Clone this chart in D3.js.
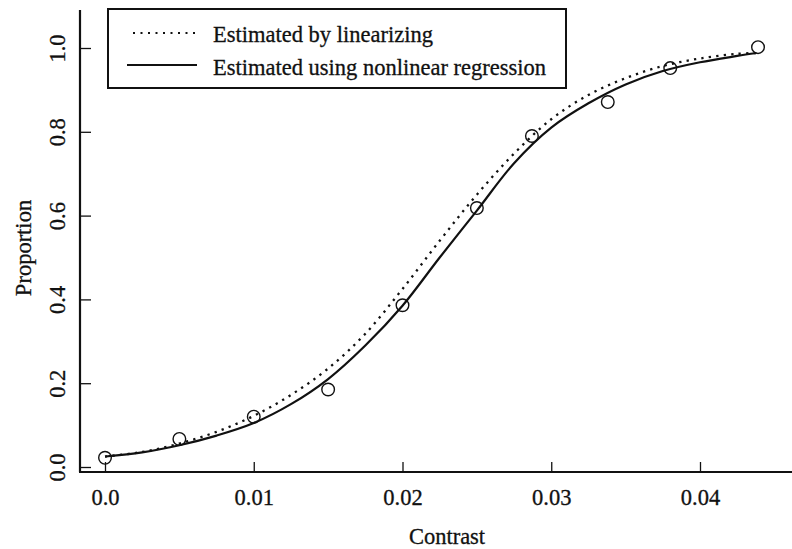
<!DOCTYPE html>
<html>
<head>
<meta charset="utf-8">
<script src="https://cdn.jsdelivr.net/npm/d3@7.9.0/dist/d3.min.js"></script>
<style>
  body { margin: 0; background: #fff; }
  svg { display: block; }
  text { font-family: "Liberation Serif", "Times New Roman", serif; fill: #111; }
</style>
</head>
<body>
<svg id="chart" width="792" height="549"></svg>
<script>
// observed points (contrast, proportion)
const contrast = [0, 0.005, 0.01, 0.015, 0.02, 0.025, 0.0287, 0.0338, 0.038, 0.0439];
const proportion = [0.022, 0.067, 0.12, 0.185, 0.386, 0.618, 0.79, 0.871, 0.952, 1.002];

// fitted curves
const curveX = [0, 0.0025, 0.005, 0.0075, 0.01, 0.0125, 0.015, 0.0175, 0.02, 0.0225,
  0.025, 0.0275, 0.03, 0.0325, 0.035, 0.0375, 0.04, 0.0425, 0.0438];
const linearized = [0.025, 0.036, 0.056, 0.084, 0.122, 0.172, 0.235, 0.318, 0.425, 0.54,
  0.65, 0.748, 0.83, 0.888, 0.928, 0.957, 0.975, 0.986, 0.988];
const nonlinear = [0.025, 0.035, 0.052, 0.075, 0.105, 0.15, 0.21, 0.29, 0.385, 0.5,
  0.612, 0.725, 0.81, 0.868, 0.913, 0.945, 0.966, 0.981, 0.988];

const xTicks = [0, 0.01, 0.02, 0.03, 0.04];
const xTickLabels = ["0.0", "0.01", "0.02", "0.03", "0.04"];
const yTicks = [0, 0.2, 0.4, 0.6, 0.8, 1.0];
const yTickLabels = ["0.0", "0.2", "0.4", "0.6", "0.8", "1.0"];
const legendLabels = ["Estimated by linearizing", "Estimated using nonlinear regression"];

const svg = d3.select("#chart");
const axLeft = 80, axBottom = 472, axTop = 10, axRight = 792;
const fs = 22.5;

const x = d3.scaleLinear().domain([0, 0.04]).range([105, 700]);
const y = d3.scaleLinear().domain([0, 1]).range([467, 48]);

// axis lines (no box)
svg.append("line").attr("x1", axLeft).attr("x2", axLeft).attr("y1", axTop).attr("y2", axBottom)
  .attr("stroke", "#111").attr("stroke-width", 2.2);
svg.append("line").attr("x1", axLeft - 1).attr("x2", axRight).attr("y1", axBottom).attr("y2", axBottom)
  .attr("stroke", "#111").attr("stroke-width", 2.2);

// x axis
const xAxis = svg.append("g")
  .attr("transform", `translate(0,${axBottom})`)
  .call(d3.axisBottom(x).tickValues(xTicks)
    .tickFormat((d, i) => xTickLabels[i]).tickSize(-10).tickPadding(17));
xAxis.select(".domain").remove();
xAxis.selectAll("line").attr("stroke", "#111").attr("stroke-width", 1.3);
xAxis.selectAll("text").attr("font-size", fs)
  .style("font-family", "'Liberation Serif', serif").attr("fill", "#111")
  .attr("stroke", "#111").attr("stroke-width", 0.3);

// y axis, rotated labels
const yAxis = svg.append("g")
  .attr("transform", `translate(${axLeft},0)`)
  .call(d3.axisLeft(y).tickValues(yTicks)
    .tickFormat((d, i) => yTickLabels[i]).tickSize(-11));
yAxis.select(".domain").remove();
yAxis.selectAll("line").attr("stroke", "#111").attr("stroke-width", 1.3);
yAxis.selectAll("text")
  .attr("x", null).attr("dy", null)
  .attr("transform", "translate(-15,0) rotate(-90)")
  .attr("text-anchor", "middle")
  .attr("font-size", fs)
  .style("font-family", "'Liberation Serif', serif").attr("fill", "#111")
  .attr("stroke", "#111").attr("stroke-width", 0.3);

// axis titles
svg.append("text").attr("x", 447).attr("y", 544).attr("text-anchor", "middle")
  .attr("font-size", fs).attr("stroke", "#111").attr("stroke-width", 0.3).text("Contrast");
svg.append("text").attr("transform", "translate(31,248) rotate(-90)")
  .attr("text-anchor", "middle").attr("font-size", fs)
  .attr("stroke", "#111").attr("stroke-width", 0.3).text("Proportion");

// curves
const line = d3.line().x(d => x(d[0])).y(d => y(d[1])).curve(d3.curveCatmullRom);

svg.append("path").datum(curveX.map((c, i) => [c, linearized[i]]))
  .attr("d", line).attr("fill", "none").attr("stroke", "#111")
  .attr("stroke-width", 2.3).attr("stroke-dasharray", "2.3,5.2");

svg.append("path").datum(curveX.map((c, i) => [c, nonlinear[i]]))
  .attr("d", line).attr("fill", "none").attr("stroke", "#111")
  .attr("stroke-width", 2.2);

// points
svg.selectAll("circle.pt").data(contrast.map((c, i) => [c, proportion[i]]))
  .enter().append("circle").attr("class", "pt")
  .attr("cx", d => x(d[0])).attr("cy", d => y(d[1])).attr("r", 6.3)
  .attr("fill", "none").attr("stroke", "#111").attr("stroke-width", 1.4);

// legend
const lg = svg.append("g");
lg.append("rect").attr("x", 108).attr("y", 9).attr("width", 458).attr("height", 79)
  .attr("fill", "#fff").attr("stroke", "#111").attr("stroke-width", 2);
lg.append("line").attr("x1", 133).attr("x2", 197).attr("y1", 33).attr("y2", 33)
  .attr("stroke", "#111").attr("stroke-width", 2.2).attr("stroke-dasharray", "2,5.5");
lg.append("line").attr("x1", 127).attr("x2", 197).attr("y1", 65).attr("y2", 65)
  .attr("stroke", "#111").attr("stroke-width", 2.2);
lg.selectAll("text.lab").data(legendLabels).enter().append("text").attr("class", "lab")
  .attr("x", 213).attr("y", (d, i) => 42 + i * 33)
  .attr("font-size", fs).attr("stroke", "#111").attr("stroke-width", 0.3).text(d => d);
</script>
</body>
</html>
